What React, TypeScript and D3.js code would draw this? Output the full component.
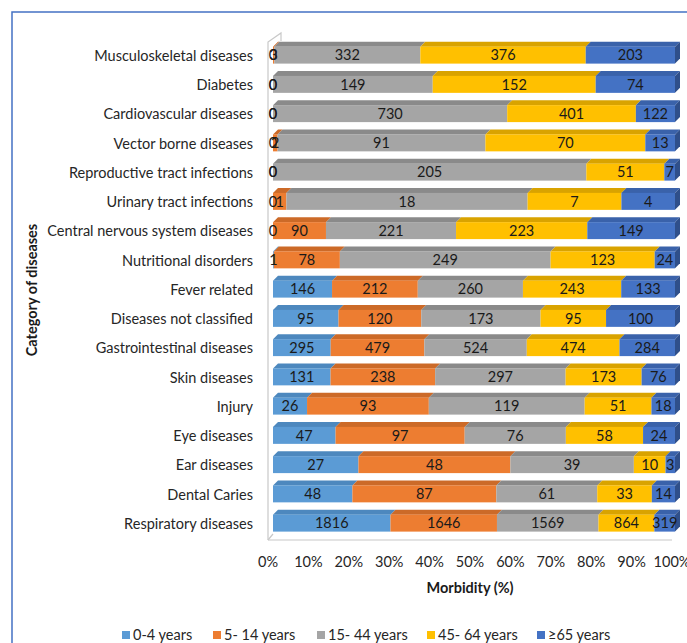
import * as d3 from "d3";

// categories top to bottom
const categories = [
  "Musculoskeletal diseases",
  "Diabetes",
  "Cardiovascular diseases",
  "Vector borne diseases",
  "Reproductive tract infections",
  "Urinary tract infections",
  "Central nervous system diseases",
  "Nutritional disorders",
  "Fever related",
  "Diseases not classified",
  "Gastrointestinal diseases",
  "Skin diseases",
  "Injury",
  "Eye diseases",
  "Ear diseases",
  "Dental Caries",
  "Respiratory diseases",
];

const ageGroups = ["0-4 years", "5- 14 years", "15- 44 years", "45- 64 years", "≥65 years"];

const age0to4 = [0, 0, 0, 0, 0, 0, 0, 1, 146, 95, 295, 131, 26, 47, 27, 48, 1816];
const age5to14 = [3, 0, 0, 2, 0, 1, 90, 78, 212, 120, 479, 238, 93, 97, 48, 87, 1646];
const age15to44 = [332, 149, 730, 91, 205, 18, 221, 249, 260, 173, 524, 297, 119, 76, 39, 61, 1569];
const age45to64 = [376, 152, 401, 70, 51, 7, 223, 123, 243, 95, 474, 173, 51, 58, 10, 33, 864];
const age65plus = [203, 74, 122, 13, 7, 4, 149, 24, 133, 100, 284, 76, 18, 24, 3, 14, 319];

const xTicks = [0, 0.1, 0.2, 0.3, 0.4, 0.5, 0.6, 0.7, 0.8, 0.9, 1];

const frontColors = ["#5b9bd5", "#ed7d31", "#a5a5a5", "#ffc000", "#4472c4"];
const topColors = ["#4d88be", "#cc6a28", "#8a8a8a", "#d9a300", "#3a62aa"];
const sideColors = ["#3f73a3", "#a9561f", "#6f6f6f", "#b38700", "#2f4f8a"];

const FONT = "Lato, 'Open Sans', sans-serif";

export default function App() {
  const width = 687;
  const height = 643;
  const dx = 5;
  const dy = 5;

  const columns = [age0to4, age5to14, age15to44, age45to64, age65plus];
  const rows = categories.map((c, i) => {
    const r: Record<string, any> = { category: c };
    ageGroups.forEach((g, j) => (r[g] = columns[j][i]));
    return r;
  });

  const stacked = d3.stack<any>().keys(ageGroups).offset(d3.stackOffsetExpand)(rows);

  const y = d3
    .scaleBand<string>()
    .domain(categories)
    .range([40.5, 537.75])
    .paddingInner(0.42)
    .paddingOuter(0.21);
  const xBar = d3.scaleLinear().domain([0, 1]).range([273, 675]);
  const xFloor = d3.scaleLinear().domain([0, 1]).range([268, 672]);
  const fmt = d3.format(".0%");
  const bh = y.bandwidth();

  const legendX = [122, 213, 317, 427, 537];

  return (
    <svg
      width={width}
      height={height}
      style={{ position: "absolute", left: 0, top: 0, background: "#fff" }}
      fontFamily={FONT}
    >
      <rect x={12} y={12} width={width} height={height} fill="none" stroke="#4472c4" strokeWidth={1.5} />

      {/* 3d wall and floor */}
      <g stroke="#c8c8c8" strokeWidth={1.2} fill="none">
        <path d={`M268,540 L268,42 L281,33 L281,41`} />
        <path d={`M268,540 L273,534`} />
        <path d={`M268,540 L672,540`} />
      </g>

      {/* bars */}
      {categories.map((c, i) => {
        const y0 = y(c)!;
        const segs = stacked.map((s, k) => ({ k, d0: s[i][0], d1: s[i][1], v: columns[k][i] }));
        const lastK = [...segs].reverse().find((s) => s.v > 0)!.k;
        return (
          <g key={c}>
            {segs.map((s) => {
              const x0 = xBar(s.d0);
              const x1 = xBar(s.d1);
              if (s.v === 0) return null;
              return (
                <g key={s.k}>
                  <path
                    d={`M${x0},${y0} L${x0 + dx},${y0 - dy} L${x1 + dx},${y0 - dy} L${x1},${y0} Z`}
                    fill={topColors[s.k]}
                  />
                  <rect x={x0} y={y0} width={x1 - x0} height={bh} fill={frontColors[s.k]} />
                  {s.k === lastK && (
                    <path
                      d={`M${x1},${y0} L${x1 + dx},${y0 - dy} L${x1 + dx},${y0 + bh - dy} L${x1},${y0 + bh} Z`}
                      fill={sideColors[s.k]}
                    />
                  )}
                </g>
              );
            })}
            {segs.map((s) => (
              <text
                key={"t" + s.k}
                x={xBar((s.d0 + s.d1) / 2)}
                y={y0 + bh / 2}
                dy="0.36em"
                textAnchor="middle"
                fontSize={14.5}
                fill="#1a1a1a"
              >
                {s.v}
              </text>
            ))}
            <text x={253} y={y0 + bh / 2} dy="0.4em" textAnchor="end" fontSize={14.5} fill="#262626">
              {c}
            </text>
          </g>
        );
      })}

      {/* x axis */}
      {xTicks.map((t) => (
        <text key={t} x={xFloor(t)} y={567} textAnchor="middle" fontSize={14.5} fill="#262626">
          {fmt(t)}
        </text>
      ))}
      <text x={470} y={593} textAnchor="middle" fontSize={14.5} fontWeight="bold" fill="#1a1a1a">
        Morbidity (%)
      </text>
      <text
        transform={`translate(37,290) rotate(-90)`}
        textAnchor="middle"
        fontSize={14.5}
        fontWeight="bold"
        fill="#1a1a1a"
      >
        Category of diseases
      </text>

      {/* legend */}
      {ageGroups.map((g, i) => (
        <g key={g} transform={`translate(${legendX[i]},635)`}>
          <rect x={0} y={-4} width={8} height={8} fill={frontColors[i]} />
          <text x={11} y={0} dy="0.36em" fontSize={14.5} fill="#262626">
            {g}
          </text>
        </g>
      ))}
    </svg>
  );
}
